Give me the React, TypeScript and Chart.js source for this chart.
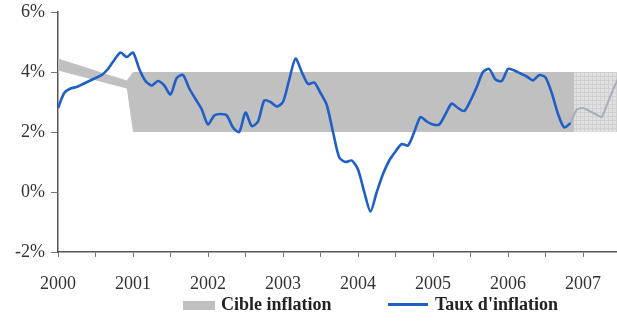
import React, { useEffect, useRef } from "react";
import { Chart, registerables } from "chart.js";

Chart.register(...registerables);

// Monthly inflation rate (%), Jan 2000 .. Nov 2006
const inflationRate = [
  2.8, 3.3, 3.45, 3.5, 3.6, 3.7, 3.8, 3.9, 4.1, 4.4, 4.65, 4.5,
  4.65, 4.1, 3.7, 3.55, 3.7, 3.55, 3.25, 3.8, 3.9, 3.45, 3.1, 2.75,
  2.25, 2.55, 2.6, 2.55, 2.15, 2.0, 2.65, 2.2, 2.35, 3.05, 3.0, 2.85,
  3.0, 3.75, 4.45, 4.0, 3.6, 3.65, 3.3, 2.9, 2.0, 1.15, 1.0, 1.05,
  0.75, 0.0, -0.65, 0.0, 0.6, 1.05, 1.35, 1.6, 1.55, 2.0, 2.5, 2.35,
  2.25, 2.25, 2.6, 2.95, 2.8, 2.7, 3.05, 3.5, 4.0, 4.1, 3.75, 3.7,
  4.1, 4.05, 3.95, 3.85, 3.72, 3.9, 3.82, 3.3, 2.6, 2.15, 2.3,
];
const inflationStart = 2000;

// Projection (grey line), starting Nov 2006
const projectionRate = [2.3, 2.75, 2.8, 2.7, 2.6, 2.5, 3.0, 3.5, 3.95];
const projectionStartMonth = 82;

// Inflation target band
const targetDates = [2000, 2000 + 11 / 12, 2001, 2006.88];
const targetUpper = [4.45, 3.72, 4.0, 4.0];
const targetLower = [4.05, 3.45, 2.0, 2.0];
const projTargetDates = [2006.88, 2007.6];
const projTargetUpper = [4.0, 4.0];
const projTargetLower = [2.0, 2.0];

const yTicks = [-2, 0, 2, 4, 6];
const xMin = 2000;
const xMax = 2007.453;

const legendTarget = "Cible inflation";
const legendRate = "Taux d'inflation";

function makePattern(): CanvasPattern | string {
  const c = document.createElement("canvas");
  c.width = 4;
  c.height = 4;
  const g = c.getContext("2d");
  if (!g) return "#d9d9d9";
  g.fillStyle = "#e0e0e0";
  g.fillRect(0, 0, 4, 4);
  g.fillStyle = "#d0d0d0";
  g.fillRect(0, 0, 4, 1);
  g.fillRect(0, 0, 1, 4);
  return g.createPattern(c, "repeat") || "#d9d9d9";
}

export default function App() {
  const ref = useRef<HTMLCanvasElement>(null);

  useEffect(() => {
    document.body.style.margin = "0";
    const canvas = ref.current;
    if (!canvas) return;
    const pattern = makePattern();
    const pts = (xs: number[], ys: number[]) => xs.map((x, i) => ({ x, y: ys[i] }));
    const chart = new Chart(canvas, {
      type: "line",
      data: {
        datasets: [
          {
            label: legendRate,
            data: inflationRate.map((v, i) => ({ x: inflationStart + i / 12, y: v })),
            borderColor: "#1f5fc6",
            borderWidth: 2.6,
            pointRadius: 0,
            tension: 0.25,
            fill: false,
            order: 0,
          },
          {
            label: "proj",
            data: projectionRate.map((v, i) => ({ x: inflationStart + (projectionStartMonth + i) / 12, y: v })),
            borderColor: "#a9aebb",
            borderWidth: 2,
            pointRadius: 0,
            tension: 0.2,
            fill: false,
            order: 1,
          },
          {
            label: legendTarget,
            data: pts(targetDates, targetUpper),
            borderWidth: 0,
            borderColor: "rgba(0,0,0,0)",
            backgroundColor: "#c0c0c0",
            pointRadius: 0,
            fill: "+1",
            order: 5,
          },
          {
            label: "lower",
            data: pts(targetDates, targetLower),
            borderWidth: 0,
            borderColor: "rgba(0,0,0,0)",
            pointRadius: 0,
            fill: false,
            order: 6,
          },
          {
            label: "projUpper",
            data: pts(projTargetDates, projTargetUpper),
            borderWidth: 0,
            borderColor: "rgba(0,0,0,0)",
            backgroundColor: pattern as any,
            pointRadius: 0,
            fill: "+1",
            order: 7,
          },
          {
            label: "projLower",
            data: pts(projTargetDates, projTargetLower),
            borderWidth: 0,
            borderColor: "rgba(0,0,0,0)",
            pointRadius: 0,
            fill: false,
            order: 8,
          },
        ],
      },
      options: {
        responsive: false,
        animation: false,
        layout: { padding: { top: 12, right: 0, left: 0, bottom: 0 } },
        plugins: { legend: { display: false }, tooltip: { enabled: false } },
        scales: {
          x: {
            type: "linear",
            min: xMin,
            max: xMax,
            afterFit: (s: any) => {
              s.height = 77;
              s.paddingLeft = 0;
              s.paddingRight = 0;
            },
            border: { display: true, color: "#555", width: 1.5 },
            grid: { display: true, drawOnChartArea: false, drawTicks: true, tickLength: 5, color: "#777" },
            ticks: {
              stepSize: 0.5,
              includeBounds: false,
              autoSkip: false,
              maxRotation: 0,
              padding: 16,
              color: "#333",
              font: { family: "'Liberation Serif', 'Times New Roman', serif", size: 18 },
              callback: (v: any) => (Number.isInteger(Number(v)) ? String(v) : ""),
            },
          },
          y: {
            min: yTicks[0],
            max: yTicks[yTicks.length - 1],
            afterFit: (s: any) => {
              s.width = 58;
              s.paddingTop = 0;
              s.paddingBottom = 0;
            },
            afterBuildTicks: (s: any) => {
              s.ticks = yTicks.map((v) => ({ value: v }));
            },
            border: { display: true, color: "#555", width: 1.5 },
            grid: { display: true, drawOnChartArea: false, drawTicks: true, tickLength: 7, color: "#777" },
            ticks: {
              padding: 6,
              color: "#333",
              font: { family: "'Liberation Serif', 'Times New Roman', serif", size: 18 },
              callback: (v: any) => `${v}%`,
            },
          },
        },
      },
    });
    return () => chart.destroy();
  }, []);

  const legendFont: React.CSSProperties = {
    position: "absolute",
    top: 293,
    fontFamily: "'Liberation Serif', 'Times New Roman', serif",
    fontWeight: "bold",
    fontSize: 18,
    lineHeight: "22px",
    color: "#222",
    whiteSpace: "nowrap",
  };

  return (
    <div style={{ position: "relative", width: 617, height: 329, background: "#fff" }}>
      <canvas ref={ref} width={617} height={329} style={{ display: "block", width: 617, height: 329 }} />
      <div style={{ position: "absolute", left: 183, top: 301, width: 32, height: 9, background: "#c0c0c0" }} />
      <div style={{ ...legendFont, left: 221 }}>{legendTarget}</div>
      <div style={{ position: "absolute", left: 388, top: 303, width: 40, height: 3, background: "#1f5fc6" }} />
      <div style={{ ...legendFont, left: 435 }}>{legendRate}</div>
    </div>
  );
}
